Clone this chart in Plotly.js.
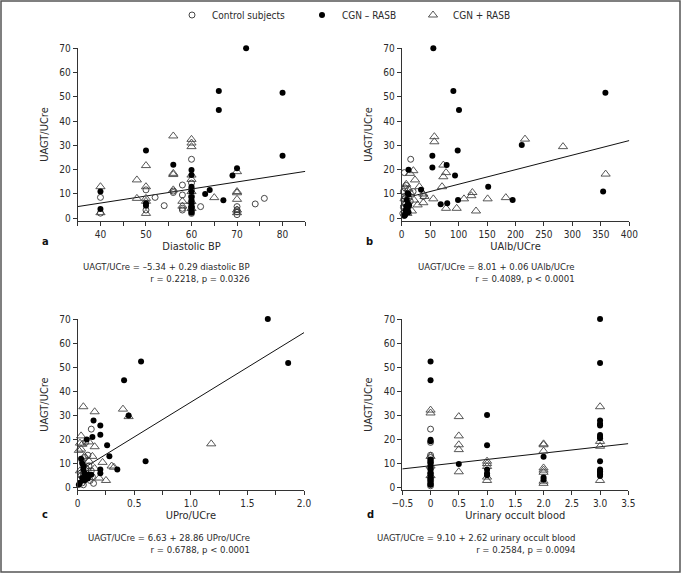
<!DOCTYPE html>
<html>
<head>
<meta charset="utf-8">
<script src="https://cdn.plot.ly/plotly-3.0.1.min.js"></script>
<style>html,body{margin:0;padding:0;background:#fff;}#chart{width:681px;height:573px;}</style>
</head>
<body>
<div id="chart"></div>
<script>
// ---------- Data ----------
const groupNames = ["Control subjects", "CGN \u2013 RASB", "CGN + RASB"];
const yTitle = "UAGT/UCre";
const xTitles = ["Diastolic BP", "UAlb/UCre", "UPro/UCre", "Urinary occult blood"];
const panelLetters = ["a", "b", "c", "d"];
const equations = [
  "UAGT/UCre = \u20135.34 + 0.29 diastolic BP<br>r = 0.2218, p = 0.0326",
  "UAGT/UCre = 8.01 + 0.06 UAlb/UCre<br>r = 0.4089, p < 0.0001",
  "UAGT/UCre = 6.63 + 28.86 UPro/UCre<br>r = 0.6788, p < 0.0001",
  "UAGT/UCre = 9.10 + 2.62 urinary occult blood<br>r = 0.2584, p = 0.0094"
];
const intercepts = [-5.34, 8.01, 6.63, 9.10];
const slopes = [0.29, 0.06, 28.86, 2.62];

// Panel a: diastolic BP
const ctrlA_x = [40,40,50,50,52,54,56,56,58,58,58,58,60,60,60,60,60,60,60,60,62,70,70,70,70,74,76];
const ctrlA_y = [8.6,2.1,11.7,3.4,8.6,5.2,10.6,11.2,13.7,9.6,4.1,3.4,24.3,14.5,12,9,6.5,4.5,3.2,2,4.8,4.8,3.5,2.7,1.5,5.9,8.2];
const cgnMinusA_x = [40,40,50,50,50,56,60,60,60,60,60,60,60,60,60,60,60,63,64,66,66,67,69,70,72,80,80];
const cgnMinusA_y = [11,3.8,27.9,6.2,5.2,22,19.9,17.8,13,10.9,8.8,7.5,6.1,5,4.5,3.4,2.3,10,11.6,52.4,44.6,7.4,17.6,20.6,70,51.7,25.8];
const cgnPlusA_x = [40,40,48,48,50,50,50,50,50,56,56,56,56,58,58,60,60,60,60,60,60,60,60,65,70,70,70,70,70,70];
const cgnPlusA_y = [13,2.3,15.8,8.2,21.7,13,8.2,7,2,33.9,18.5,18,11.7,7,5,32.5,31,29.5,17.8,16,11,6.9,4,8.5,19.2,11,10.5,7.8,3.4,2.3];

// Panel b: UAlb/UCre
const ctrlB_x = [15.8,4.7,8,6,3,5,4,7,3,5,2,4,10,12,15,20,38];
const ctrlB_y = [24.3,18.8,13.5,12.5,11,9,8,6,4.5,3,2,1.2,4,8.5,7,11,9];
const cgnMinusB_x = [55.6,53.9,53.9,90.8,100.7,98.4,79,93.7,34,152,68.5,80,99,195,211,358,354,12,10.5,12,9,11,8,10,7,12,6,5,9,13];
const cgnMinusB_y = [70,25.8,20.9,52.4,44.6,27.9,21.9,17.6,11.7,13,5.8,6.2,7.5,7.5,30.2,51.7,11,20,10.3,9.8,7.5,6,5,4.2,3.2,2.5,1.5,1,3.8,5.4];
const cgnPlusB_x = [57.4,57.4,216.7,283.5,358.4,73.2,77.9,73.2,70.9,55.6,77.9,96.6,109.5,124.2,122.4,151,183,130.6,20.5,14.6,23.4,31,38,40,38,28,21.7,12,8,15,5,18,10,6];
const cgnPlusB_y = [33.6,31.5,32.6,29.5,18.2,21.9,18.8,17.1,13,8,4.1,4.1,8,10.6,9.3,8,8.5,3,19.6,18.5,15.8,13,10,9,6.4,5.5,7.5,12,14,10.5,8,3,2,6];

// Panel c: UPro/UCre
const ctrlC_x = [0.12,0.07,0.09,0.06,0.04,0.10,0.07,0.05,0.13,0.11,0.04,0.05,0.14,0.12,0.03];
const ctrlC_y = [24.3,18.8,13.5,12.5,11,9,8,6,4.5,3,2,1.2,1.8,7,5];
const cgnMinusC_x = [1.68,1.86,0.56,0.41,0.45,0.14,0.20,0.20,0.13,0.08,0.26,0.28,0.60,0.35,0.20,0.20,0.03,0.04,0.05,0.06,0.08,0.10,0.04,0.06,0.09,0.12,0.02,0.01,0.05];
const cgnMinusC_y = [70,51.7,52.4,44.6,30,27.9,25.8,22,21,20,17.6,13,11,7.5,7.5,6,12,10,9,6,5,5.5,4,3,3.8,5.4,2,1.2,7.5];
const cgnPlusC_x = [0.05,0.15,0.40,0.45,1.18,0.03,0.02,0.04,0.10,0.15,0.03,0.01,0.13,0.06,0.22,0.30,0.32,0.25,0.19,0.15,0.10,0.08,0.02,0.05];
const cgnPlusC_y = [33.6,31.5,32.6,29.5,18.2,21.5,18.5,18,19,17,16,15.5,13,13,10.5,9,8.5,3,4,8,11,8,7,5];

// Panel d: urinary occult blood
const ctrlD_x = [0,0,0,0,0,0,0,0,0,0,0];
const ctrlD_y = [24.3,18.8,13.5,12.5,11,8,6,4,3,1.5,0.8];
const cgnMinusD_x = [0,0,0,0,0,0,0,0,0,0,0,0,0,0,0,0.5,1,1,1,1,1,2,2,2,3,3,3,3,3,3,3,3,3,3,3,3,3,3];
const cgnMinusD_y = [52.4,44.6,19.9,19.3,11.7,10.5,10,9,7.5,6,5,4,3,2,1.2,9.8,30.2,17.6,7.5,6,5.2,12.8,4.2,3.3,70,51.7,27.9,26.5,25.8,21.9,21,20.5,11,7.6,6.8,6.2,5.5,4.8];
const cgnPlusD_x = [0,0,0,0,0,0.5,0.5,0.5,0.5,0.5,1,1,1,1,1,2,2,2,2,2,2,2,2,3,3,3,3];
const cgnPlusD_y = [32.2,31,13,9,5,29.5,21.5,17.8,15.8,6.6,11,10,8.8,4.4,3,18.2,17.8,15.2,8.2,7.3,6.4,2.7,1.8,33.6,19.2,17.2,3];

const xRanges = [[35,85],[0,400],[0,2],[-0.5,3.5]];
const xTickVals = [[40,50,60,70,80],[0,50,100,150,200,250,300,350,400],[0,0.5,1,1.5,2],[-0.5,0,0.5,1,1.5,2,2.5,3,3.5]];
const xTickText = [["40","50","60","70","80"],["0","50","100","150","200","250","300","350","400"],["0","0.5","1.0","1.5","2.0"],["\u22120.5","0","0.5","1.0","1.5","2.0","2.5","3.0","3.5"]];
const xMinorDtick = [5, null, 0.25, null];
const yTickVals = [0,10,20,30,40,50,60,70];

// ---------- Layout helpers (pixel -> paper) ----------
const W = 681, H = 573;
const px = v => v / W;
const py = v => 1 - v / H;
const FONT = "Liberation Sans Narrow, DejaVu Sans Condensed, Lato, sans-serif";
const TXT = "#2a2a2a";

const panelX = [[77.7,305.3],[401.7,629.3],[77.7,304],[402.3,628.3]];
const panelY = [[48.3,220.7],[48.3,220.7],[319,490.1],[319,490.1]];

const ctrlX = [ctrlA_x, ctrlB_x, ctrlC_x, ctrlD_x], ctrlY = [ctrlA_y, ctrlB_y, ctrlC_y, ctrlD_y];
const minusX = [cgnMinusA_x, cgnMinusB_x, cgnMinusC_x, cgnMinusD_x], minusY = [cgnMinusA_y, cgnMinusB_y, cgnMinusC_y, cgnMinusD_y];
const plusX = [cgnPlusA_x, cgnPlusB_x, cgnPlusC_x, cgnPlusD_x], plusY = [cgnPlusA_y, cgnPlusB_y, cgnPlusC_y, cgnPlusD_y];

const traces = [];
const layout = {
  width: W, height: H,
  margin: {l:0, r:0, t:0, b:0},
  paper_bgcolor: "#fff", plot_bgcolor: "#fff",
  font: {family: FONT, size: 10, color: TXT},
  showlegend: true,
  annotations: [], shapes: []
};

for (let i = 0; i < 4; i++) {
  const s = i === 0 ? "" : String(i + 1);
  const xa = "x" + s, ya = "y" + s;
  // regression line from coefficients
  const lx = xRanges[i];
  traces.push({x: lx, y: lx.map(v => intercepts[i] + slopes[i] * v), xaxis: xa, yaxis: ya,
    mode: "lines", line: {color: "#111", width: 1}, showlegend: false, hoverinfo: "skip", cliponaxis: false});
  traces.push({x: plusX[i], y: plusY[i], xaxis: xa, yaxis: ya, mode: "markers", name: groupNames[2],
    legend: "legend3", showlegend: i === 0, cliponaxis: false,
    marker: {symbol: "triangle-up-open", size: 8, color: "#444", line: {width: 0.9, color: "#444"}}});
  traces.push({x: ctrlX[i], y: ctrlY[i], xaxis: xa, yaxis: ya, mode: "markers", name: groupNames[0],
    legend: "legend", showlegend: i === 0, cliponaxis: false,
    marker: {symbol: "circle-open", size: 6, color: "#333", line: {width: 0.9, color: "#333"}}});
  traces.push({x: minusX[i], y: minusY[i], xaxis: xa, yaxis: ya, mode: "markers", name: groupNames[1],
    legend: "legend2", showlegend: i === 0, cliponaxis: false,
    marker: {symbol: "circle", size: 6, color: "#000"}});

  const xaxis = {
    domain: [px(panelX[i][0]), px(panelX[i][1])], anchor: ya, range: xRanges[i],
    tickmode: "array", tickvals: xTickVals[i], ticktext: xTickText[i],
    ticks: "outside", ticklen: 4, tickwidth: 1, tickcolor: "#333",
    showline: true, linecolor: "#333", linewidth: 1, showgrid: false, zeroline: false,
    tickfont: {size: 10, color: TXT},
    title: {text: xTitles[i], font: {size: 11, color: TXT}, standoff: 2},
    automargin: false
  };
  if (xMinorDtick[i]) xaxis.minor = {dtick: xMinorDtick[i], tick0: 0, ticks: "outside", ticklen: 4, tickcolor: "#333", showgrid: false};
  const yaxis = {
    domain: [py(panelY[i][1]), py(panelY[i][0])], anchor: xa, range: [-1, 70],
    tickmode: "array", tickvals: yTickVals,
    ticks: "outside", ticklen: 4, tickwidth: 1, tickcolor: "#333",
    showline: true, linecolor: "#333", linewidth: 1, showgrid: false, zeroline: false,
    tickfont: {size: 10, color: TXT},
    title: {text: yTitle, font: {size: 11, color: TXT}, standoff: 8},
    automargin: false
  };
  layout["xaxis" + s] = xaxis;
  layout["yaxis" + s] = yaxis;
}

// panel letters
const letterPos = [[45,241],[369,241],[45,514],[370,514]];
letterPos.forEach((p, i) => layout.annotations.push({
  text: "<b>" + panelLetters[i] + "</b>", xref: "paper", yref: "paper", x: px(p[0]), y: py(p[1]),
  xanchor: "center", yanchor: "middle", showarrow: false, font: {size: 11, color: "#111", family: FONT}
}));
// equations
const eqPos = [[252,272],[577,272],[252,543],[577,543]];
eqPos.forEach((p, i) => layout.annotations.push({
  text: equations[i], xref: "paper", yref: "paper", x: px(p[0]), y: py(p[1]),
  xanchor: "right", yanchor: "middle", align: "right", showarrow: false,
  font: {size: 9.5, color: TXT, family: FONT}
}));

// legends (one per group, positioned along the top)
const legBase = {orientation: "h", yanchor: "middle", y: py(15), xanchor: "left",
  bgcolor: "rgba(0,0,0,0)", borderwidth: 0, font: {size: 10, color: TXT, family: FONT}, itemwidth: 30};
layout.legend = Object.assign({}, legBase, {x: px(172)});
layout.legend2 = Object.assign({}, legBase, {x: px(302)});
layout.legend3 = Object.assign({}, legBase, {x: px(413)});

// frame
layout.shapes.push({type: "rect", xref: "paper", yref: "paper", x0: px(1), x1: px(680), y0: py(572), y1: py(1),
  line: {color: "#555", width: 1.5}, fillcolor: "rgba(0,0,0,0)"});

Plotly.newPlot("chart", traces, layout, {displayModeBar: false, staticPlot: true});
</script>
</body>
</html>
